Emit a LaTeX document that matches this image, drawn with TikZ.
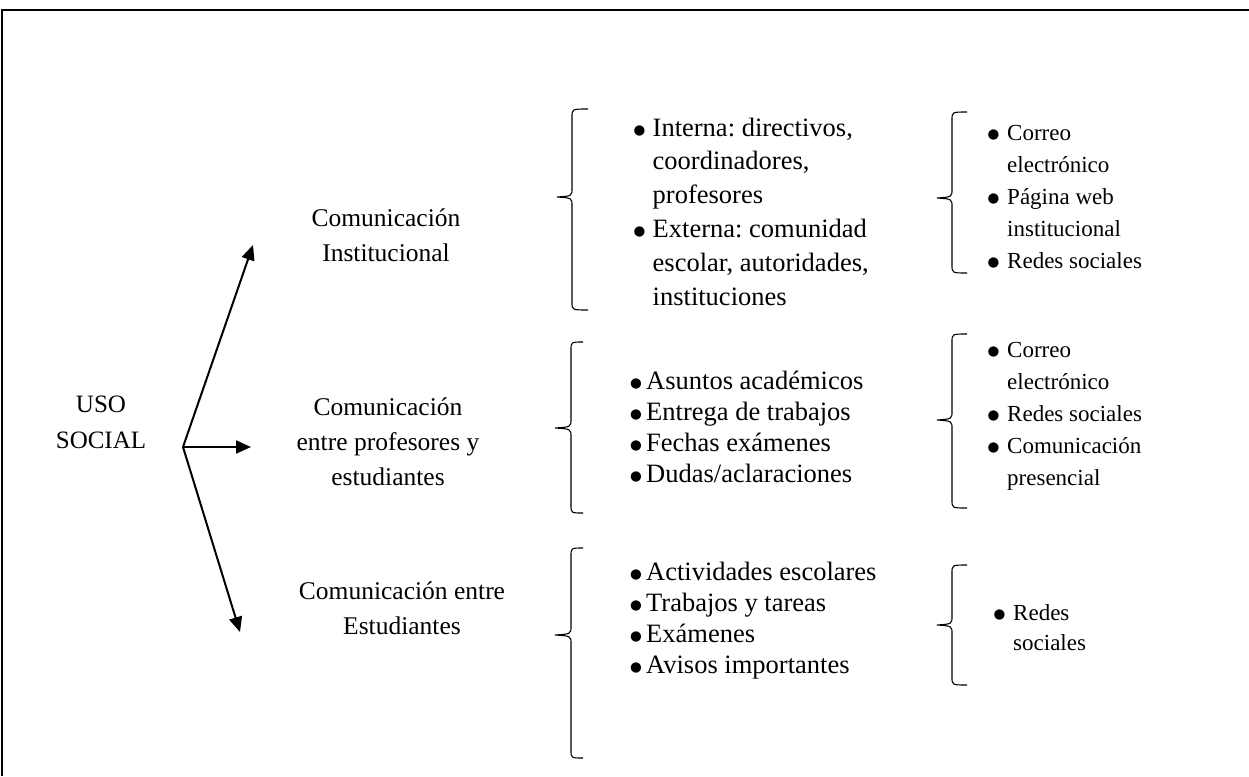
\documentclass[tikz,border=0pt]{standalone}
\usepackage{fontspec}
\setmainfont{Liberation Serif}
\newfontfamily\symfont{DejaVu Sans}
\usetikzlibrary{arrows.meta}
\frenchspacing
\newcommand{\wbrace}[6]{% x, top, bottom, tipy, tipx, hookx
  \draw[bracestyle] (#6,#2) .. controls (#1,#2) .. (#1,#2+8) -- (#1,#4-9)
    .. controls (#1,#4-1) .. (#5,#4) .. controls (#1,#4+1) .. (#1,#4+9)
    -- (#1,#3-8) .. controls (#1,#3) .. (#6,#3);}
% bullet box: #1 = distance from box start to text start
\newcommand{\bl}[1][19pt]{\makebox[#1][l]{\raisebox{1.8pt}{\fontsize{13.5}{13.5}\symfont ●}}}
\newcommand{\ind}[1][19pt]{\hspace*{#1}}
\begin{document}
\begin{tikzpicture}[x=1pt,y=-1pt,
  lbl/.style={anchor=base, inner sep=0pt, font=\fontsize{25.5}{35}\selectfont},
  lst/.style={anchor=base west, inner sep=0pt},
  bracestyle/.style={line width=1.1pt, black},
  arr/.style={line width=2pt, -{Triangle[length=15pt,width=13pt]}},
  frame/.style={line width=1.6pt}]
\useasboundingbox (0,0) rectangle (1249,776);
\draw[frame] (2,776) -- (2,10) -- (1249,10);

% root
\node[lbl, font=\fontsize{25}{36}\selectfont] (root) at (101,412) {\begin{tabular}[t]{@{}c@{}}USO\\SOCIAL\end{tabular}};
\coordinate (o) at (183,447);
\coordinate (t1) at (253,245);
\coordinate (t2) at (251,447);
\coordinate (t3) at (240,632);
\draw[arr] (o) -- (t1);
\draw[arr] (o) -- (t2);
\draw[arr] (o) -- (t3);

% categories
\node[lbl] (c1) at (386,226) {\begin{tabular}[t]{@{}c@{}}Comunicación\\Institucional\end{tabular}};
\node[lbl] (c2) at (388,415) {\begin{tabular}[t]{@{}c@{}}Comunicación\\entre profesores y\\estudiantes\end{tabular}};
\node[lbl] (c3) at (402,599) {\begin{tabular}[t]{@{}c@{}}Comunicación entre\\Estudiantes\end{tabular}};

% braces
\wbrace{572}{109}{310}{197}{557}{588}
\wbrace{952}{112}{273}{198}{937}{967}
\wbrace{571}{342}{513}{428}{555}{583}
\wbrace{952}{334}{508}{420}{937}{967}
\wbrace{571}{548}{758}{635}{555}{583}
\wbrace{952}{565}{685}{625}{937}{967}

% lists
\node[lst, font=\fontsize{26.5}{33.8}\selectfont] (l1) at (633.5,136) {\begin{tabular}[t]{@{}l@{}}\bl Interna: directivos,\\\ind coordinadores,\\\ind profesores\\\bl Externa: comunidad\\\ind escolar, autoridades,\\\ind instituciones\end{tabular}};
\node[lst, font=\fontsize{26.5}{31}\selectfont] (l2) at (630,389) {\begin{tabular}[t]{@{}l@{}}\bl[16pt]Asuntos académicos\\\bl[16pt]Entrega de trabajos\\\bl[16pt]Fechas exámenes\\\bl[16pt]Dudas/aclaraciones\end{tabular}};
\node[lst, font=\fontsize{26.5}{31}\selectfont] (l3) at (630,580) {\begin{tabular}[t]{@{}l@{}}\bl[16pt]Actividades escolares\\\bl[16pt]Trabajos y tareas\\\bl[16pt]Exámenes\\\bl[16pt]Avisos importantes\end{tabular}};

\node[lst, font=\fontsize{23}{32}\selectfont] (r1) at (987.5,140) {\begin{tabular}[t]{@{}l@{}}\bl[19.5pt]Correo\\\ind[19.5pt]electrónico\\\bl[19.5pt]Página web\\\ind[19.5pt]institucional\\\bl[19.5pt]Redes sociales\end{tabular}};
\node[lst, font=\fontsize{23}{32}\selectfont] (r2) at (987.5,357) {\begin{tabular}[t]{@{}l@{}}\bl[19.5pt]Correo\\\ind[19.5pt]electrónico\\\bl[19.5pt]Redes sociales\\\bl[19.5pt]Comunicación\\\ind[19.5pt]presencial\end{tabular}};
\node[lst, font=\fontsize{23}{30}\selectfont] (r3) at (993.5,620) {\begin{tabular}[t]{@{}l@{}}\bl[19.5pt]Redes\\\ind[19.5pt]sociales\end{tabular}};
\end{tikzpicture}
\end{document}
